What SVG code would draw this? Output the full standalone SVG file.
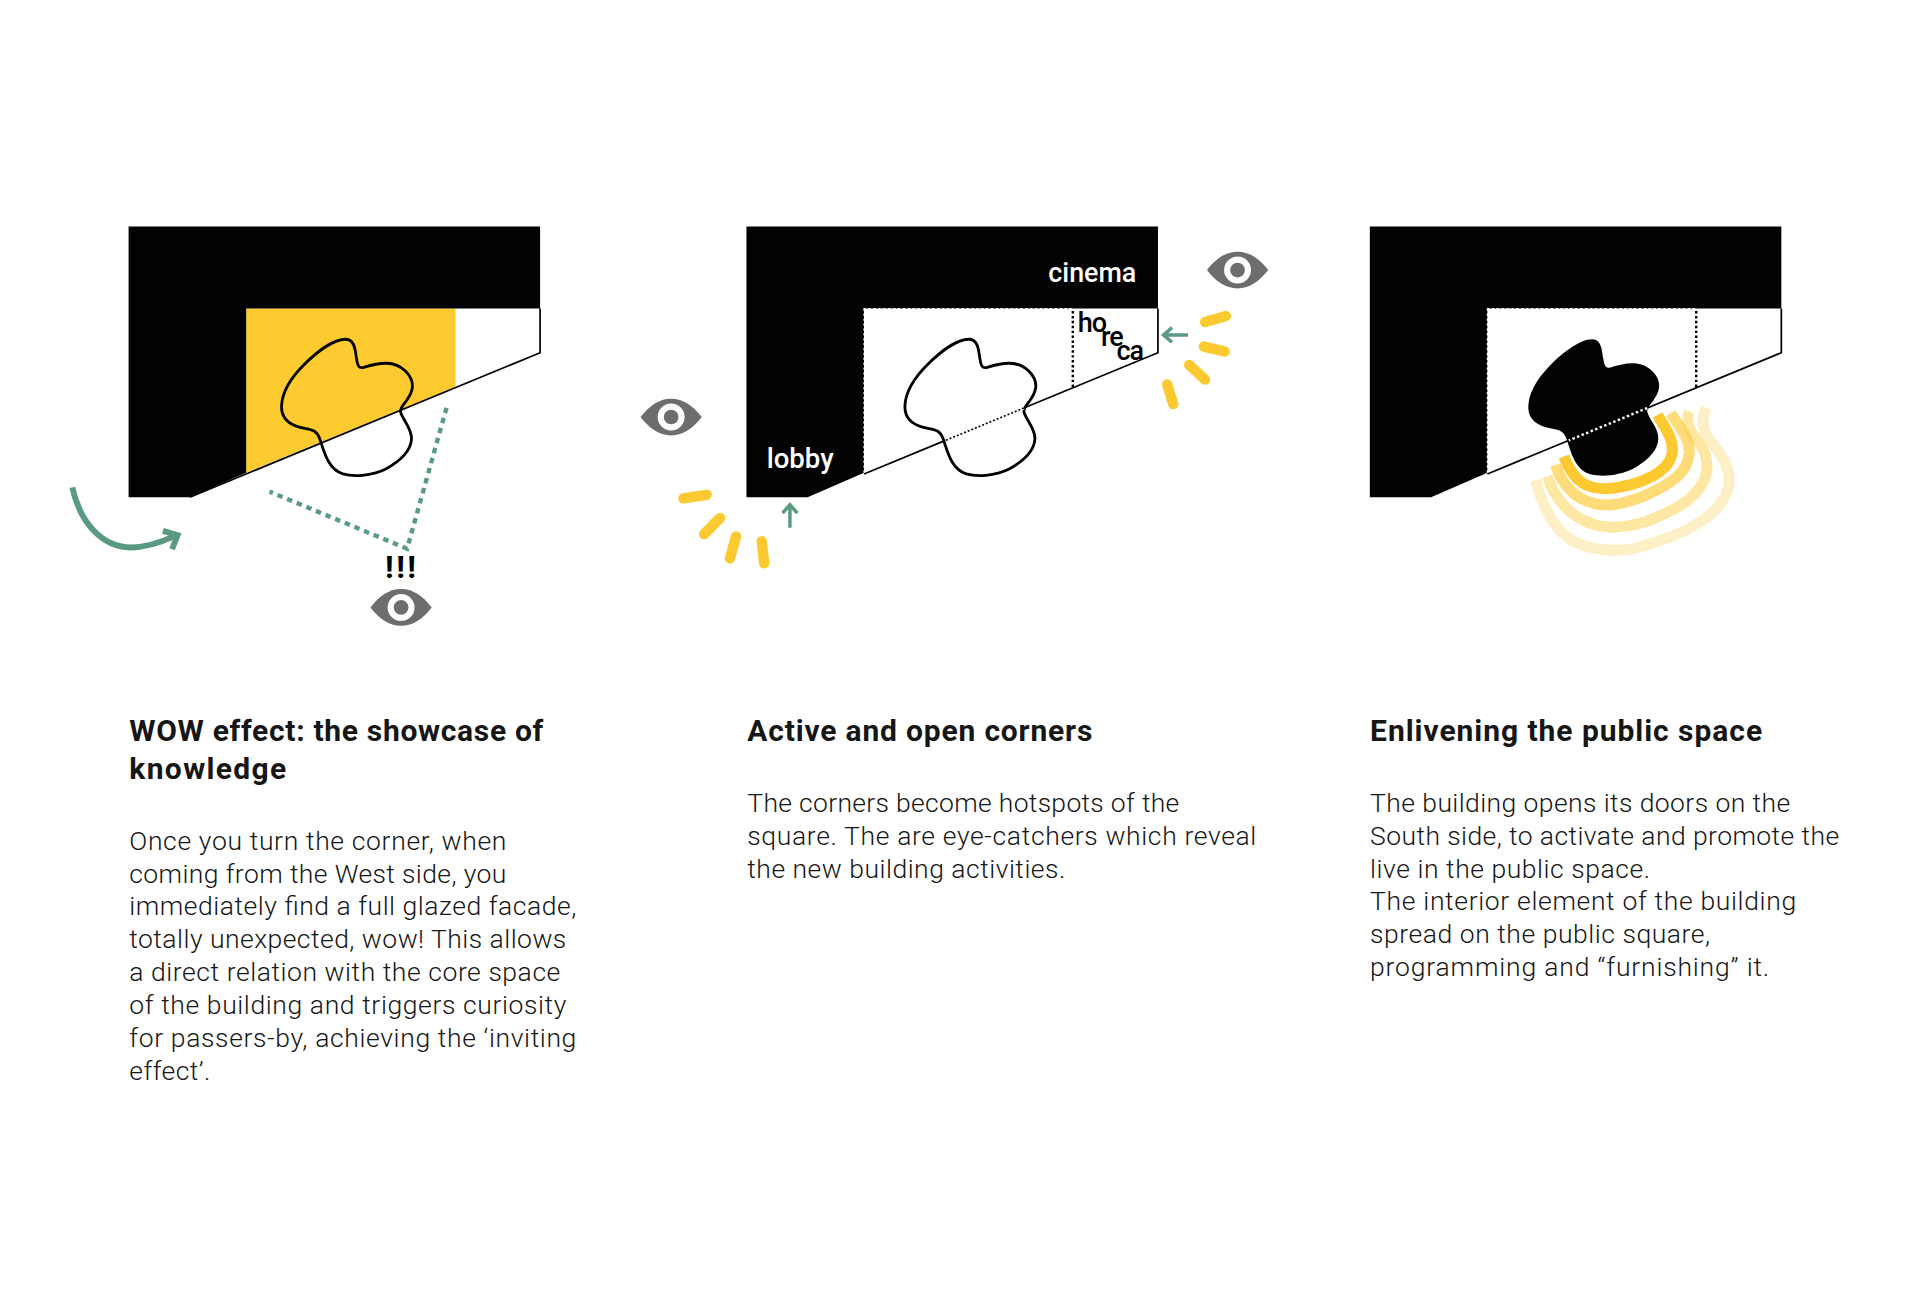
<svg xmlns="http://www.w3.org/2000/svg" width="1920" height="1297" viewBox="0 0 1920 1297">
<style>
.h{font-family:Roboto,"Liberation Sans",sans-serif;font-weight:700;font-size:30px;fill:#161616}
.b{font-family:Roboto,"Liberation Sans",sans-serif;font-weight:300;font-size:26.5px;fill:#161616}
.l{font-family:Roboto,"Liberation Sans",sans-serif;font-weight:500;font-size:27px}
.grn{fill:none;stroke:#5a9a80;stroke-width:4.8}
.grs{fill:none;stroke:#5a9a80;stroke-width:2.8}
.dash{fill:none;stroke:#fcc931;stroke-width:8.5;stroke-linecap:round}
.ring{fill:none;stroke:#fcc931}
.wd{fill:none;stroke:#fff;stroke-width:2.6;stroke-dasharray:2 2}
.kd{fill:none;stroke:#000;stroke-width:2;stroke-dasharray:2 2}
.kf{fill:none;stroke:#000;stroke-width:1.4;stroke-dasharray:1.6 1.6}
.fl{fill:none;stroke:#000;stroke-width:1.4}
</style>
<defs>
<path id="shell" d="M105,185H441V252H201V386L155,406H105Z" fill="#020202"/>
<path id="blob" d="M282,277C290,277 290,287 291,292C292,299 293,301 297,300C310,296 322,294 331,303C340,312 337,320 332,327C329,331 327,333 327,336C328,342 337,350 336,359C335,370 324,378 315,383C305,388 290,390 280,387C268,383 265,370 261,358C258,350 253,351 245,349C234,346 229,340 230,330C231,318 240,306 248,298C258,288 272,277 282,277Z"/>
<g id="eye">
<path d="M-25,0C-18,-9 -10,-15 0,-15C10,-15 18,-9 25,0C18,9 10,15 0,15C-10,15 -18,9 -25,0Z" fill="#6d6d6d"/>
<circle r="11" fill="#fff"/><circle r="6" fill="#6d6d6d"/>
</g>
</defs>

<g id="panel-1" transform="scale(1.2247)">
<path d="M201,252H372V316L201,386Z" fill="#fdcb30"/>
<use href="#shell"/>
<path class="fl" d="M441,252V288L155,406"/>
<use href="#blob" fill="none" stroke="#000" stroke-width="2.3"/>
</g>
<g id="eye-1" transform="scale(1.2247)"><use href="#eye" transform="translate(327.5,496)"/></g>

<g id="panel-2" transform="scale(1.2247)">
<g transform="translate(504.5,0)">
<use href="#shell"/>
<path class="wd" d="M201.8,386V252.8H371"/>
<path class="kd" d="M371.5,254V316"/>
<path class="fl" d="M441,252V288L331.5,333.2M267.5,359.6L201,387"/>
<g transform="translate(4.5,0)"><use href="#blob" fill="none" stroke="#000" stroke-width="2.3"/></g>
<path d="M331.5,333.2L267.5,359.6" fill="none" stroke="#fff" stroke-width="2.6"/>
<path class="kf" d="M331.5,333.2L267.5,359.6"/>
</g>
</g>
<g id="eye-2" transform="scale(1.2247)"><use href="#eye" transform="translate(548,340.5)"/></g>
<g id="eye-3" transform="scale(1.2247)"><use href="#eye" transform="translate(1010.5,220.5)"/></g>

<g id="panel-3" transform="scale(1.2247)">
<g transform="translate(1013.5,0)">
<use href="#shell"/>
<path class="wd" d="M201.8,386V252.8H371"/>
<path class="kd" d="M371.5,254V316"/>
<path class="fl" d="M441,252V288L201,387"/>
<g transform="translate(4.5,0)"><use href="#blob" fill="#020202"/></g>
<path d="M331.5,333.2L267.5,359.6" fill="none" stroke="#fff" stroke-width="2" stroke-dasharray="2 2"/>
</g>
</g>

<g id="rings" transform="scale(1.2247)">
<path class="ring" stroke-width="9" d="M1353.4,338.8C1360,350 1366,358 1365.6,368C1365,378 1358,384 1349,389C1338,395 1325,398 1312,399C1300,399.5 1293,396 1288,391C1282,385 1279,378 1277,372.8"/>
<path class="ring" stroke-width="9" opacity=".65" d="M1364.3,337.4C1372,350 1380,358 1379.3,370C1378,384 1368,392 1355,399C1342,406 1328,411 1315,412.3C1302,413 1290,408 1283,401C1276,394 1272,386 1270.3,379.6"/>
<path class="ring" stroke-width="9" opacity=".45" d="M1379.3,336C1376,345 1380,352 1386,360C1394,370 1396,382 1391,393C1385,405 1372,414 1358,420C1344,427 1331,430 1318,430.5C1302,431 1289,424 1280,416C1271,407 1266,397 1263.5,389"/>
<path class="ring" stroke-width="9" opacity=".28" d="M1393,333C1389,342 1390,350 1395,358C1403,369 1412,378 1412,392C1412,405 1402,417 1390,425C1377,434 1354,443 1334,448C1316,451 1298,449 1283,441C1268,431 1259,412 1254,392"/>
</g>

<g id="connectors" transform="scale(1.2247)">
<path class="grn" d="M59,398C65,425 82,447 107,447C120,447 131,443 142,438"/>
<path class="grn" d="M133,433.5L145,437L140.5,448.5"/>
<path d="M364.6,333L332.4,448L220,401.4" fill="none" stroke="#5a9a80" stroke-width="3.6" stroke-dasharray="4.5 4"/>
<path class="grs" d="M645,431V412M639,419L645,412L651,419"/>
<path class="grs" d="M970,273.5H950M957,267.5L950,273.5L957,279.5"/>
<path class="dash" d="M558,407L577,404M575,436L588,423M596,456L601,438M624,460L622,442"/>
<path class="dash" d="M984,263L1001,258M983,283L1000,287M971,298L984,310M953,314L958,330"/>
</g>

<g id="labels">
<text x="385" y="578" class="l" style="font-size:32px;font-weight:700" textLength="31" lengthAdjust="spacing">!!!</text>
<text x="1048.3" y="281.7" class="l" fill="#fff" textLength="88" lengthAdjust="spacingAndGlyphs">cinema</text>
<text x="766.7" y="467.8" class="l" fill="#fff" textLength="67" lengthAdjust="spacingAndGlyphs">lobby</text>
<text class="l" fill="#000" letter-spacing="-1" style="font-size:27px"><tspan x="1077.7" y="332">ho</tspan><tspan x="1101" y="346">re</tspan><tspan x="1116.5" y="360">ca</tspan></text>
</g>

<g id="text-1">
<text x="129.3" y="741.3" class="h" textLength="414" lengthAdjust="spacing">WOW effect: the showcase of</text>
<text x="129.3" y="779" class="h" textLength="157" lengthAdjust="spacing">knowledge</text>
<text x="129.3" y="849.7" class="b" textLength="377" lengthAdjust="spacing">Once you turn the corner, when</text>
<text x="129.3" y="882.6" class="b" textLength="377" lengthAdjust="spacing">coming from the West side, you</text>
<text x="129.3" y="915.4" class="b" textLength="447" lengthAdjust="spacing">immediately find a full glazed facade,</text>
<text x="129.3" y="948.2" class="b" textLength="437" lengthAdjust="spacing">totally unexpected, wow! This allows</text>
<text x="129.3" y="981.1" class="b" textLength="431" lengthAdjust="spacing">a direct relation with the core space</text>
<text x="129.3" y="1013.9" class="b" textLength="437" lengthAdjust="spacing">of the building and triggers curiosity</text>
<text x="129.3" y="1046.7" class="b" textLength="447" lengthAdjust="spacing">for passers-by, achieving the ‘inviting</text>
<text x="129.3" y="1079.6" class="b" textLength="81" lengthAdjust="spacing">effect’.</text>
</g>
<g id="text-2">
<text x="747.3" y="741.3" class="h" textLength="345" lengthAdjust="spacing">Active and open corners</text>
<text x="747.3" y="812" class="b" textLength="432" lengthAdjust="spacing">The corners become hotspots of the</text>
<text x="747.3" y="844.8" class="b" textLength="509" lengthAdjust="spacing">square. The are eye-catchers which reveal</text>
<text x="747.3" y="877.6" class="b" textLength="318" lengthAdjust="spacing">the new building activities.</text>
</g>
<g id="text-3">
<text x="1370.1" y="741.3" class="h" textLength="392" lengthAdjust="spacing">Enlivening the public space</text>
<text x="1370.1" y="812" class="b" textLength="420" lengthAdjust="spacing">The building opens its doors on the</text>
<text x="1370.1" y="844.8" class="b" textLength="469" lengthAdjust="spacing">South side, to activate and promote the</text>
<text x="1370.1" y="877.6" class="b" textLength="280" lengthAdjust="spacing">live in the public space.</text>
<text x="1370.1" y="910.4" class="b" textLength="426" lengthAdjust="spacing">The interior element of the building</text>
<text x="1370.1" y="943.3" class="b" textLength="340" lengthAdjust="spacing">spread on the public square,</text>
<text x="1370.1" y="976.1" class="b" textLength="399" lengthAdjust="spacing">programming and “furnishing” it.</text>
</g>
</svg>
